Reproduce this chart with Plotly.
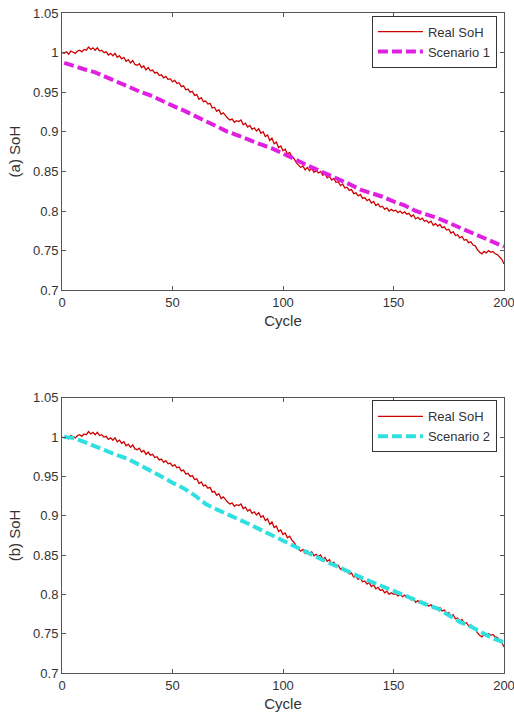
import plotly.graph_objects as go

# ---------------- data ----------------
real_cycles = list(range(0, 201))
real_soh = [
    1.000, 0.999, 1.001, 0.998, 1.002, 1.000, 0.999, 1.002, 1.003, 1.001,
    1.004, 1.003, 1.007, 1.004, 1.006, 1.003, 1.006, 1.002, 1.003, 1.000,
    1.001, 0.997, 0.999, 0.996, 0.999, 0.994, 0.996, 0.992, 0.994, 0.989,
    0.991, 0.987, 0.990, 0.985, 0.984, 0.986, 0.981, 0.983, 0.978, 0.981,
    0.977, 0.978, 0.974, 0.975, 0.971, 0.972, 0.968, 0.970, 0.966, 0.967,
    0.963, 0.965, 0.961, 0.962, 0.957, 0.958, 0.953, 0.954, 0.950, 0.951,
    0.946, 0.947, 0.941, 0.943, 0.938, 0.939, 0.935, 0.936, 0.930, 0.931,
    0.926, 0.928, 0.922, 0.924, 0.920, 0.917, 0.915, 0.916, 0.912, 0.914,
    0.913, 0.915, 0.909, 0.911, 0.906, 0.908, 0.903, 0.905, 0.901, 0.904,
    0.898, 0.900, 0.894, 0.896, 0.889, 0.892, 0.885, 0.887, 0.880, 0.882,
    0.876, 0.878, 0.872, 0.874, 0.869, 0.866, 0.861, 0.858, 0.855, 0.857,
    0.852, 0.855, 0.851, 0.854, 0.849, 0.851, 0.848, 0.850, 0.845, 0.847,
    0.842, 0.844, 0.839, 0.841, 0.836, 0.837, 0.832, 0.834, 0.829, 0.830,
    0.826, 0.827, 0.822, 0.823, 0.819, 0.821, 0.816, 0.817, 0.813, 0.815,
    0.810, 0.812, 0.807, 0.809, 0.805, 0.806, 0.802, 0.804, 0.800, 0.802,
    0.800, 0.801, 0.798, 0.800, 0.797, 0.799, 0.796, 0.797, 0.793, 0.795,
    0.790, 0.792, 0.789, 0.791, 0.787, 0.788, 0.785, 0.787, 0.782, 0.784,
    0.781, 0.783, 0.779, 0.780, 0.776, 0.777, 0.772, 0.774, 0.769, 0.770,
    0.766, 0.768, 0.763, 0.764, 0.760, 0.761, 0.757, 0.756, 0.751, 0.748,
    0.746, 0.749, 0.747, 0.750, 0.748, 0.749, 0.746, 0.745, 0.742, 0.739,
    0.733,
]

scen_cycles = [1, 5, 10, 15, 20, 25, 30, 35, 40, 45, 50, 55, 60, 65, 70, 75, 80,
               85, 90, 95, 100, 105, 110, 115, 120, 125, 130, 135, 140, 145, 150,
               155, 160, 165, 170, 175, 180, 185, 190, 195, 200]
scenario1 = [0.987, 0.983, 0.979, 0.975, 0.969, 0.962, 0.956, 0.951, 0.946, 0.939,
             0.933, 0.927, 0.920, 0.914, 0.906, 0.900, 0.895, 0.889, 0.884, 0.879,
             0.873, 0.866, 0.859, 0.853, 0.847, 0.841, 0.834, 0.827, 0.823, 0.818,
             0.812, 0.807, 0.800, 0.796, 0.791, 0.785, 0.779, 0.772, 0.766, 0.760,
             0.755]
scenario2 = [1.000, 0.999, 0.994, 0.988, 0.982, 0.977, 0.972, 0.965, 0.958, 0.950,
             0.942, 0.935, 0.926, 0.915, 0.908, 0.902, 0.896, 0.889, 0.882, 0.875,
             0.869, 0.861, 0.854, 0.848, 0.841, 0.835, 0.828, 0.822, 0.816, 0.810,
             0.804, 0.798, 0.793, 0.787, 0.782, 0.773, 0.765, 0.759, 0.751, 0.744,
             0.739]

x_ticks = [0, 50, 100, 150, 200]
y_ticks = [0.7, 0.75, 0.8, 0.85, 0.9, 0.95, 1.0, 1.05]
y_tick_labels = ["0.7", "0.75", "0.8", "0.85", "0.9", "0.95", "1", "1.05"]

RED = "#d00000"
MAG = "#e020e0"
CYA = "#30e0e0"
AX = "#555555"
TXT = "#333333"
FONT = "Liberation Sans, Arial, sans-serif"

fig = go.Figure()
fig.add_trace(go.Scatter(x=real_cycles, y=real_soh, mode="lines", name="Real SoH",
                         line=dict(color=RED, width=1.3), xaxis="x", yaxis="y",
                         legend="legend"))
fig.add_trace(go.Scatter(x=scen_cycles, y=scenario1, mode="lines", name="Scenario 1",
                         line=dict(color=MAG, width=4, dash="10px,4px"),
                         xaxis="x", yaxis="y", legend="legend"))
fig.add_trace(go.Scatter(x=real_cycles, y=real_soh, mode="lines", name="Real SoH",
                         line=dict(color=RED, width=1.3), xaxis="x2", yaxis="y2",
                         legend="legend2"))
fig.add_trace(go.Scatter(x=scen_cycles, y=scenario2, mode="lines", name="Scenario 2",
                         line=dict(color=CYA, width=4, dash="10px,4px"),
                         xaxis="x2", yaxis="y2", legend="legend2"))

common_x = dict(range=[0, 200], tickvals=x_ticks, ticks="inside", ticklen=4,
                tickcolor=AX, showline=True, linecolor=AX, linewidth=1, mirror="ticks",
                showgrid=False, zeroline=False, automargin=False,
                ticklabeloverflow="allow",
                tickfont=dict(size=13, color=TXT),
                title=dict(text="Cycle", font=dict(size=15, color=TXT), standoff=6))
common_y = dict(range=[0.7, 1.05], tickvals=y_ticks, ticktext=y_tick_labels,
                ticks="inside", ticklen=4, tickcolor=AX, showline=True, linecolor=AX,
                linewidth=1, mirror="ticks", showgrid=False, zeroline=False,
                automargin=False, ticklabeloverflow="allow",
                tickfont=dict(size=13, color=TXT))

leg_common = dict(xanchor="right", yanchor="top", bordercolor=TXT, borderwidth=1,
                  bgcolor="white", font=dict(size=13, color=TXT), tracegroupgap=0,
                  itemwidth=45)

fig.update_layout(
    width=514, height=719,
    margin=dict(l=62, r=10, t=13, b=46),
    paper_bgcolor="white", plot_bgcolor="white",
    font=dict(family=FONT, color=TXT),
    xaxis=dict(domain=[0, 1], anchor="y", **common_x),
    yaxis=dict(domain=[0.580, 1.0], anchor="x",
               title=dict(text="(a) SoH", font=dict(size=15, color=TXT), standoff=8),
               **common_y),
    xaxis2=dict(domain=[0, 1], anchor="y2", **common_x),
    yaxis2=dict(domain=[0.0, 0.417], anchor="x2",
                title=dict(text="(b) SoH", font=dict(size=15, color=TXT), standoff=8),
                **common_y),
    legend=dict(x=0.984, y=0.996, **leg_common),
    legend2=dict(x=0.984, y=0.413, **leg_common),
    showlegend=True,
)

fig.write_html("out.html", config={"displayModeBar": False},
               post_script="document.body.style.margin='0px';")
